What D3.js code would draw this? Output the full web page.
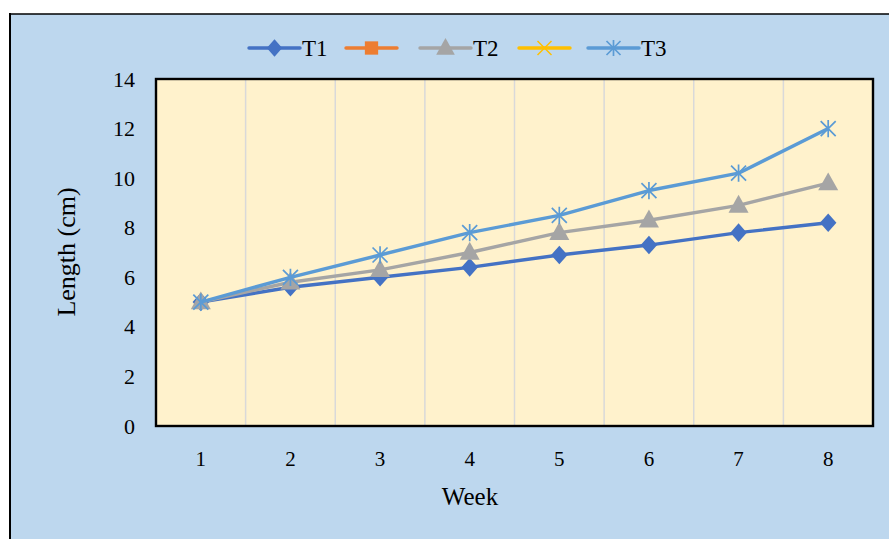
<!DOCTYPE html>
<html>
<head>
<meta charset="utf-8">
<script src="https://cdn.jsdelivr.net/npm/d3@7"></script>
<style>
  html, body { margin: 0; padding: 0; background: #ffffff; }
  svg { display: block; font-family: "Liberation Serif", "Times New Roman", serif; }
</style>
</head>
<body>
<svg id="chart" width="889" height="539"></svg>
<script>
// Weekly length measurements (cm) per treatment
const weeks = [1, 2, 3, 4, 5, 6, 7, 8];
const t1 = [5.0, 5.6, 6.0, 6.4, 6.9, 7.3, 7.8, 8.2];
const t2 = [5.0, 5.8, 6.3, 7.0, 7.8, 8.3, 8.9, 9.8];
const t3 = [5.0, 6.0, 6.9, 7.8, 8.5, 9.5, 10.2, 12.0];
const yTicks = [0, 2, 4, 6, 8, 10, 12, 14];

// Legend entries (two entries carry no label and no data)
const legendNames = ["T1", "", "T2", "", "T3"];
const legendColors = ["#4472C4", "#ED7D31", "#A5A5A5", "#FFC000", "#5B9BD5"];
const legendSymbols = ["diamond", "square", "triangle", "x", "star"];

const series = [
  { name: "T1", values: t1, color: "#4472C4", symbol: "diamond" },
  { name: "T2", values: t2, color: "#A5A5A5", symbol: "triangle" },
  { name: "T3", values: t3, color: "#5B9BD5", symbol: "star" }
];

const svg = d3.select("#chart");
const W = 889, H = 539;
const plot = { left: 156, top: 79, right: 873, bottom: 426 };

// Chart frame
svg.append("rect").attr("x", 10).attr("y", 14).attr("width", W).attr("height", H)
  .attr("fill", "#BDD7EE");
svg.append("line").attr("x1", 10).attr("x2", 10).attr("y1", 13).attr("y2", H)
  .attr("stroke", "#000").attr("stroke-width", 2);
svg.append("line").attr("x1", 9).attr("x2", W).attr("y1", 14).attr("y2", 14)
  .attr("stroke", "#000").attr("stroke-width", 1.5);

// Scales
const x = d3.scaleBand().domain(weeks).range([plot.left, plot.right]);
const y = d3.scaleLinear().domain([0, 14]).range([plot.bottom, plot.top]);
const cx = d => x(d) + x.bandwidth() / 2;

// Plot area
svg.append("rect")
  .attr("x", plot.left).attr("y", plot.top)
  .attr("width", plot.right - plot.left).attr("height", plot.bottom - plot.top)
  .attr("fill", "#FFF2CC");

// Vertical gridlines at category boundaries
svg.append("g").selectAll("line").data(weeks.slice(1)).join("line")
  .attr("x1", d => x(d)).attr("x2", d => x(d))
  .attr("y1", plot.top).attr("y2", plot.bottom)
  .attr("stroke", "#D9D9D9").attr("stroke-width", 1.5);

// Plot border
svg.append("rect")
  .attr("x", plot.left).attr("y", plot.top)
  .attr("width", plot.right - plot.left).attr("height", plot.bottom - plot.top)
  .attr("fill", "none").attr("stroke", "#000").attr("stroke-width", 2.4);

// Y axis labels
const yAxis = d3.axisLeft(y).tickValues(yTicks).tickSize(0).tickPadding(21);
const gy = svg.append("g").attr("transform", `translate(${plot.left},0)`).call(yAxis);
gy.select(".domain").remove();
gy.selectAll("text").attr("font-size", 22).attr("fill", "#000")
  .attr("font-family", "Liberation Serif");

// X axis labels
const xAxis = d3.axisBottom(x).tickSize(0).tickPadding(25);
const gx = svg.append("g").attr("transform", `translate(0,${plot.bottom})`).call(xAxis);
gx.select(".domain").remove();
gx.selectAll("text").attr("font-size", 21).attr("fill", "#000")
  .attr("font-family", "Liberation Serif");

// Axis titles
svg.append("text").attr("x", 470).attr("y", 505).attr("text-anchor", "middle")
  .attr("font-size", 25).text("Week");
svg.append("text").attr("transform", "translate(75,252) rotate(-90)")
  .attr("text-anchor", "middle").attr("font-size", 26).text("Length (cm)");

// Marker drawing helper
function drawMarker(g, sym, color, size) {
  if (sym === "diamond") {
    const w = size * 0.55, h = size * 0.62;
    g.append("path").attr("d", `M0,${-h}L${w},0L0,${h}L${-w},0Z`).attr("fill", color);
  } else if (sym === "square") {
    const s = size * 0.95;
    g.append("rect").attr("x", -s / 2).attr("y", -s / 2).attr("width", s).attr("height", s)
      .attr("fill", color);
  } else if (sym === "triangle") {
    const s = size * 1.15;
    g.append("path").attr("d", `M0,${-s * 0.62}L${s * 0.58},${s * 0.42}L${-s * 0.58},${s * 0.42}Z`)
      .attr("fill", color);
  } else if (sym === "x") {
    const s = size / 2;
    g.append("path").attr("d", `M${-s},${-s}L${s},${s}M${-s},${s}L${s},${-s}`)
      .attr("stroke", color).attr("stroke-width", 1.5);
  } else if (sym === "star") {
    const s = size / 2;
    g.append("path")
      .attr("d", `M${-s},${-s}L${s},${s}M${-s},${s}L${s},${-s}M0,${-s * 1.15}L0,${s * 1.15}`)
      .attr("stroke", color).attr("stroke-width", 1.7).attr("fill", "none");
  }
}

// Series lines and markers
const line = d3.line().x((d, i) => cx(weeks[i])).y(d => y(d));
series.forEach(s => {
  svg.append("path").datum(s.values).attr("d", line)
    .attr("fill", "none").attr("stroke", s.color).attr("stroke-width", 3.4)
    .attr("stroke-linejoin", "round");
  s.values.forEach((v, i) => {
    const g = svg.append("g").attr("transform", `translate(${cx(weeks[i])},${y(v)})`);
    drawMarker(g, s.symbol, s.color, 15);
  });
});

// Legend
const legendX = [249, 346, 420, 519, 588];
legendNames.forEach((name, i) => {
  const g = svg.append("g").attr("transform", `translate(${legendX[i]},48)`);
  g.append("line").attr("x1", 0).attr("x2", 51).attr("y1", 0).attr("y2", 0)
    .attr("stroke", legendColors[i]).attr("stroke-width", 3.4).attr("stroke-linecap", "round");
  const m = g.append("g").attr("transform", "translate(25.5,0)");
  drawMarker(m, legendSymbols[i], legendColors[i], 14);
  if (name) {
    g.append("text").attr("x", 53).attr("y", 8).attr("font-size", 23).text(name);
  }
});
</script>
</body>
</html>
